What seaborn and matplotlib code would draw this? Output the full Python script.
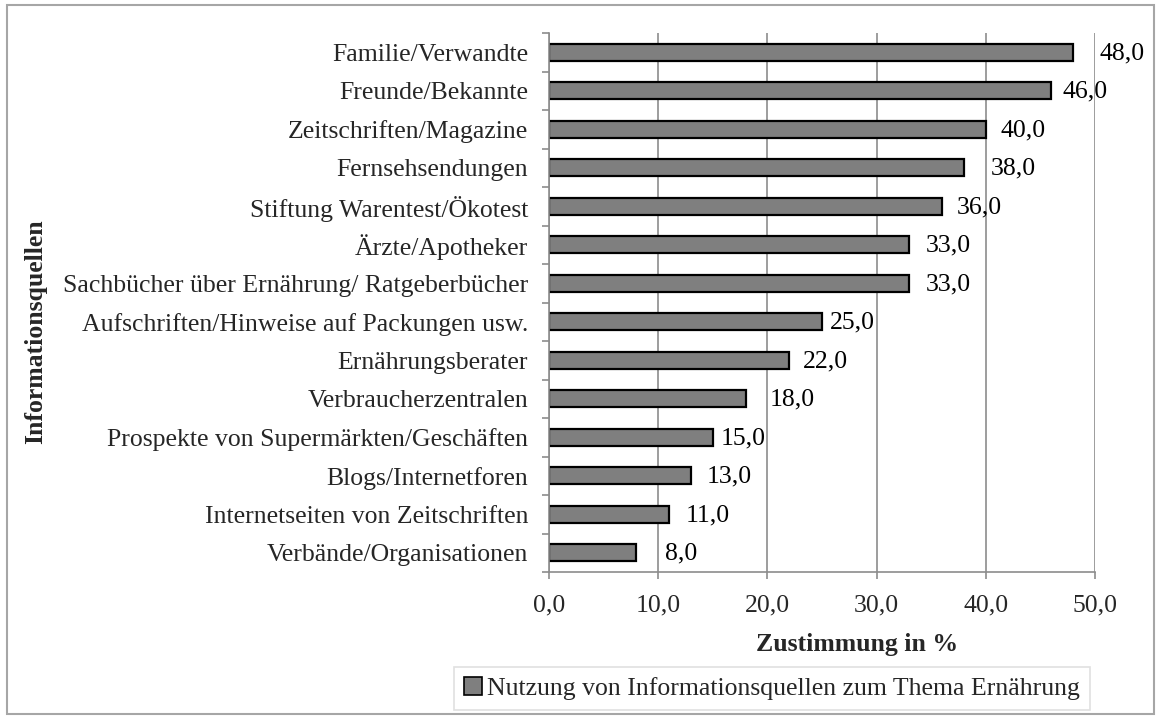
import pandas as pd
import matplotlib
matplotlib.use("Agg")
import matplotlib.pyplot as plt
from matplotlib.patches import Patch, Rectangle
from matplotlib.ticker import FuncFormatter, FixedLocator
import seaborn as sns

quellen = [
    "Familie/Verwandte",
    "Freunde/Bekannte",
    "Zeitschriften/Magazine",
    "Fernsehsendungen",
    "Stiftung Warentest/Ökotest",
    "Ärzte/Apotheker",
    "Sachbücher über Ernährung/ Ratgeberbücher",
    "Aufschriften/Hinweise auf Packungen usw.",
    "Ernährungsberater",
    "Verbraucherzentralen",
    "Prospekte von Supermärkten/Geschäften",
    "Blogs/Internetforen",
    "Internetseiten von Zeitschriften",
    "Verbände/Organisationen",
]
zustimmung = [48.0, 46.0, 40.0, 38.0, 36.0, 33.0, 33.0, 25.0, 22.0, 18.0, 15.0, 13.0, 11.0, 8.0]
x_ticks = [0, 10, 20, 30, 40, 50]
legend_label = "Nutzung von Informationsquellen zum Thema Ernährung"

# label gaps (pixels) as Excel placed them
label_gap = [26, 11, 15, 27, 15, 16, 16, 8, 14, 24, 8, 16, 17, 29]

FS = 18.5

sns.set_theme(style="white")
plt.rcParams["font.family"] = ["Liberation Serif", "DejaVu Serif"]


def komma(v):
    return f"{v:.1f}".replace(".", ",")


df = pd.DataFrame({"quelle": quellen, "wert": zustimmung})

fig = plt.figure(figsize=(11.61, 7.18), dpi=100)
ax = fig.add_axes([0.4729, 0.2033, 0.4703, 0.7507])

sns.barplot(data=df, y="quelle", x="wert", orient="h", color="#7f7f7f",
            saturation=1, edgecolor="black", linewidth=1.6, width=0.45, ax=ax)

ax.set_xlim(0, 50)
ax.xaxis.set_major_locator(FixedLocator(x_ticks))
ax.xaxis.set_major_formatter(FuncFormatter(lambda v, p: komma(v)))
ax.grid(axis="x", color="#8c8c8c", linewidth=1.2)
ax.set_axisbelow(True)

for i, v in enumerate(zustimmung):
    ax.annotate(komma(v), xy=(v, i), xytext=(label_gap[i], -1),
                textcoords="offset pixels", va="center", ha="left",
                fontsize=FS, color="black")

for side in ["top", "right"]:
    ax.spines[side].set_visible(False)
for side in ["left", "bottom"]:
    ax.spines[side].set_color("#8c8c8c")
    ax.spines[side].set_linewidth(1.2)

# category boundary ticks on the y axis
ax.set_yticks([i - 0.5 for i in range(len(quellen) + 1)], minor=True)
ax.tick_params(axis="y", which="minor", left=True, length=5, color="#8c8c8c", width=1.2)
ax.tick_params(axis="y", which="major", left=False, length=0, labelsize=FS, pad=15)
ax.tick_params(axis="x", which="major", bottom=True, length=5, color="#8c8c8c",
               width=1.2, labelsize=FS, pad=11)

ax.set_xlabel("")
ax.set_ylabel("")
fig.text(857 / 1161, 1 - 644 / 718, "Zustimmung in %", fontsize=FS,
         fontweight="bold", ha="center", va="center")
fig.text(36 / 1161, 1 - 332 / 718, "Informationsquellen", fontsize=FS,
         fontweight="bold", ha="center", va="center", rotation=90)

handle = Patch(facecolor="#7f7f7f", edgecolor="black", linewidth=1.2)
leg = fig.legend([handle], [legend_label], loc="center",
                 bbox_to_anchor=(772 / 1161, 1 - 688.5 / 718),
                 fontsize=FS, frameon=True, fancybox=False, handlelength=0.7,
                 handleheight=0.7, handletextpad=0.2, borderpad=0.4,
                 borderaxespad=0)
leg.get_frame().set_edgecolor("#d9d9d9")
leg.get_frame().set_linewidth(1.2)

fig.patches.append(Rectangle((0.006, 0.005), 0.988, 0.988, transform=fig.transFigure,
                             fill=False, edgecolor="#a6a6a6", linewidth=1.5))

fig.savefig("out.png", dpi=100)
